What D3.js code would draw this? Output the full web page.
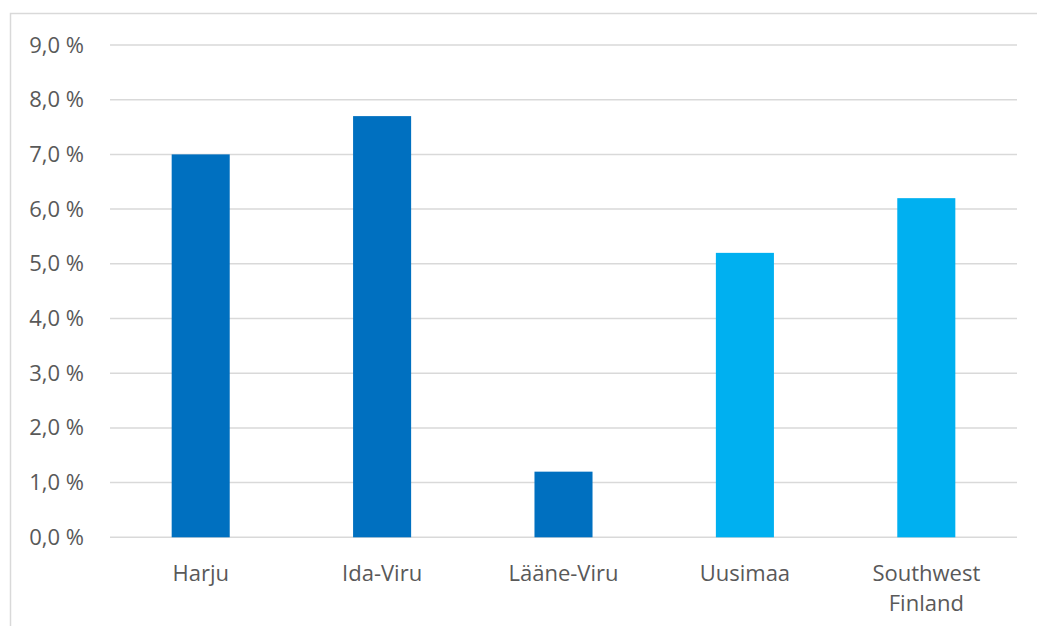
<!DOCTYPE html>
<html>
<head>
<meta charset="utf-8">
<script src="https://cdn.jsdelivr.net/npm/d3@7"></script>
<style>
  html, body { margin: 0; padding: 0; background: #ffffff; }
  svg { display: block; }
</style>
</head>
<body>
<script>
const categories = ["Harju", "Ida-Viru", "Lääne-Viru", "Uusimaa", "Southwest Finland"];
const values = [7.0, 7.7, 1.2, 5.2, 6.2];
const barColors = ["#0070C0", "#0070C0", "#0070C0", "#00B0F0", "#00B0F0"];
const yTicks = [0, 1, 2, 3, 4, 5, 6, 7, 8, 9];

const W = 1037, H = 626;
const svg = d3.select("body").append("svg").attr("width", W).attr("height", H);

// chart border (only left and top visible in reference)
svg.append("rect")
  .attr("x", 10.5).attr("y", 13.5)
  .attr("width", 1100).attr("height", 800)
  .attr("fill", "none").attr("stroke", "#d9d9d9").attr("stroke-width", 1.5);

const x = d3.scaleBand().domain(categories).range([110, 1017]).paddingInner(0.68).paddingOuter(0.34);
const y = d3.scaleLinear().domain([0, 9]).range([537.3, 45]);

const font = "'Open Sans', sans-serif";
const fs = 22;

// gridlines
svg.append("g").selectAll("line").data(yTicks).join("line")
  .attr("x1", 110).attr("x2", 1017)
  .attr("y1", d => y(d)).attr("y2", d => y(d))
  .attr("stroke", "#d9d9d9").attr("stroke-width", 1.5);

// y axis labels
const yAxis = d3.axisLeft(y).tickValues(yTicks).tickSize(0).tickPadding(0)
  .tickFormat(d => d3.format(".1f")(d).replace(".", ",") + " %");
const gy = svg.append("g").attr("transform", "translate(84,0)").call(yAxis);
gy.select(".domain").remove();
gy.selectAll("text").attr("font-family", font).attr("font-size", fs).attr("fill", "#595959");

// bars
svg.append("g").selectAll("rect").data(values).join("rect")
  .attr("x", (d, i) => x(categories[i]))
  .attr("width", x.bandwidth())
  .attr("y", d => y(d))
  .attr("height", d => y(0) - y(d))
  .attr("fill", (d, i) => barColors[i]);

// x axis labels
const xAxis = d3.axisBottom(x).tickSize(0).tickPadding(0);
const gx = svg.append("g").attr("transform", "translate(0,560)").call(xAxis);
gx.select(".domain").remove();
gx.selectAll("text").each(function(d) {
  const t = d3.select(this);
  t.text(null).attr("font-family", font).attr("font-size", fs).attr("fill", "#595959")
    .attr("dy", null).attr("y", 21);
  const words = d === "Southwest Finland" ? ["Southwest", "Finland"] : [d];
  words.forEach((w, k) => {
    t.append("tspan").attr("x", 0).attr("dy", k === 0 ? 0 : 30).text(w);
  });
});
</script>
</body>
</html>
